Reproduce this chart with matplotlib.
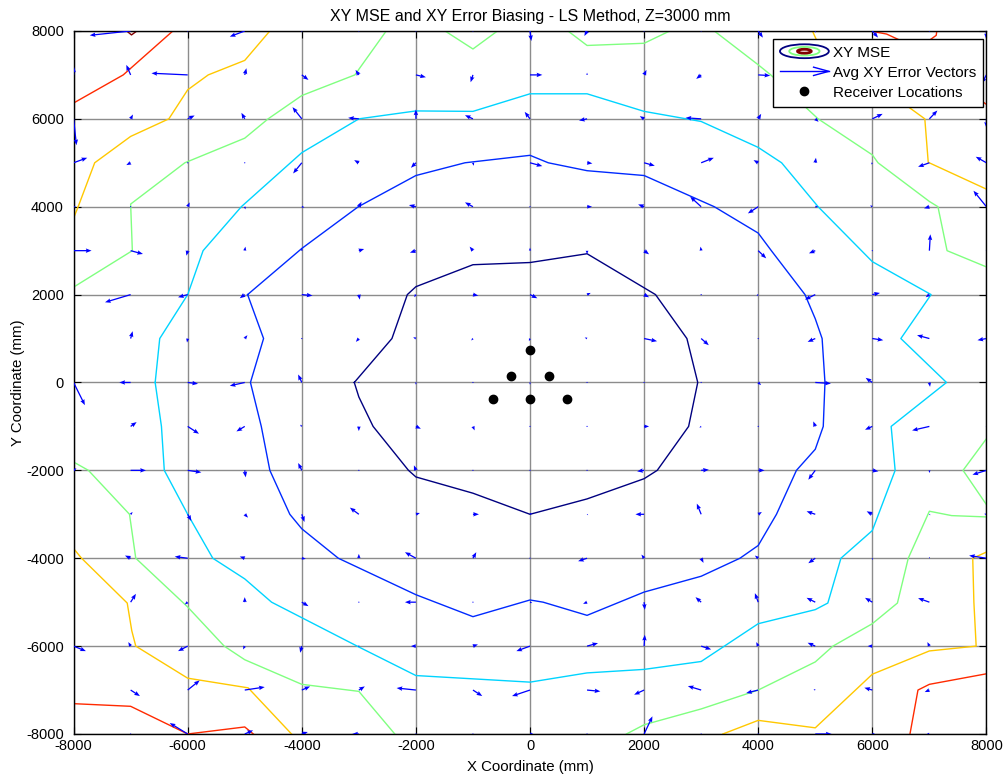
import numpy as np
import matplotlib
matplotlib.use('Agg')
import matplotlib.pyplot as plt
from matplotlib.legend_handler import HandlerBase
from matplotlib.patches import Ellipse
from matplotlib.lines import Line2D

plt.rcParams['font.family'] = ['Liberation Sans', 'DejaVu Sans']
plt.rcParams['axes.unicode_minus'] = False

# grille des points de mesure (mm)
grid_x = np.arange(-8000, 8001, 1000)
grid_y = np.arange(8000, -8001, -1000)

# erreur moyenne XY (mm), lignes de Y=8000 (haut) a Y=-8000 (bas)
err_u = np.array([
    [20, -717, 0, -262, 10, 10, 10, 10, 23, -47, 10, 10, 82, 0, 100, 10, 0],
    [5, -76, -635, 29, 117, -58, 175, -41, 216, 0, 41, -87, 210, 0, 0, 0, -82],
    [50, 41, 122, -58, -163, -187, 0, -140, -93, -140, -76, -274, 52, 58, 181, 140, 0],
    [239, -76, 10, 10, -152, -82, -87, 17, 216, 93, 187, 222, -82, 12, -20, -198, -187],
    [40, 10, 35, 12, 47, 47, -122, -140, 10, 87, -105, -192, -181, 50, -40, -93, -227],
    [315, 216, -23, 12, 0, 93, -105, -58, 0, 0, 87, -12, 140, -111, 10, 17, 10],
    [10, -449, -169, -87, 187, 17, -30, 93, 128, 64, 87, 10, -30, -181, 134, -64, 10],
    [10, 35, -12, 47, 20, -52, -47, -30, -20, -41, 227, 134, 10, -134, 192, -216, -157],
    [198, -198, 181, -262, -64, -20, 0, 10, 0, 10, 10, 10, 50, 274, -117, 12, 10],
    [10, 105, 198, -146, -30, 0, 87, 29, 10, 10, 87, -30, 10, -35, -128, -303, 10],
    [50, 268, 239, 17, -64, 10, -35, 10, 10, 10, -122, 134, 111, -122, 105, 6, -245],
    [10, 35, 64, 58, 47, -157, 70, 105, 35, 20, -152, -76, 64, -152, -99, 20, -40],
    [10, -99, -227, -87, 70, 0, -192, 58, 10, -157, -47, 41, -58, -122, 10, 10, -303],
    [10, 93, -52, 0, 117, 10, -192, 10, 40, -70, 12, -99, -58, -152, -128, -198, 10],
    [216, -41, -169, -30, -29, 10, -87, 87, -239, 192, 12, 175, -35, -134, -82, -35, 10],
    [10, 163, 210, 350, 146, 105, -338, 163, -315, 233, -175, -233, -210, -30, -140, -82, 10],
    [10, 10, -315, 146, 105, -117, 10, 10, 80, 10, 146, 10, 10, 286, 60, -60, 10],
])
err_v = np.array([
    [0, -99, -20, -129, -10, -10, -10, -10, -228, -114, -10, -10, -152, -40, -150, -10, -190],
    [190, 228, 38, 152, -114, 114, -53, -167, 0, 50, 114, -91, -15, 0, 0, 0, -190],
    [-600, 99, 76, 137, 266, 23, 213, 83, 159, -38, 61, 23, 114, -68, 114, 190, -205],
    [114, -53, -10, 10, -243, 61, -114, -68, -76, -15, -68, 114, 61, 114, -40, -91, 137],
    [0, 0, 99, -61, -15, 114, 38, 99, -10, 0, 53, 228, -152, 0, 30, -38, 364],
    [0, -76, -114, 91, 60, 38, -46, 91, 68, -80, -83, 91, -175, -61, 0, 372, 0],
    [0, -175, -61, -83, -23, -114, -60, -23, -83, 38, -61, 0, -30, -114, 38, -61, 0],
    [0, 167, -91, 76, 0, -76, 30, -45, -60, 23, -61, -152, 0, -76, -38, 76, -38],
    [-516, 0, -30, -76, 182, 0, -50, 0, -50, 0, 0, -20, -60, -23, 106, -99, 0],
    [0, 99, -167, -114, 40, -106, -53, -91, 0, 0, 0, -30, 0, 114, -76, -91, 0],
    [50, 0, -46, -159, 167, 0, 114, 0, 0, 0, -23, 15, 0, -213, -23, -61, -99],
    [0, 53, -152, -76, -175, 152, 30, 0, 30, -20, 0, 243, 53, 68, 68, -20, 10],
    [0, 61, 38, 38, -15, 99, 137, 137, 0, -68, 83, -106, 61, -114, -40, 30, 61],
    [0, 190, -53, 114, -91, 0, 0, 0, -20, -38, -175, 114, 205, 99, 99, 91, 0],
    [-114, 91, -114, -76, -152, 0, 0, 38, -114, 68, 258, -76, 91, 76, 0, 91, 0],
    [0, -137, 220, 68, 83, 83, 46, -137, -137, -30, -106, 91, -68, 20, 53, -46, 0],
    [0, 0, 250, 83, 46, 0, 0, 0, -20, 0, 402, 0, 0, 0, -10, -10, 0],
])

# positions des recepteurs (mm)
receiver_x = [0, -330, 330, -650, 0, 650]
receiver_y = [730, 145, 145, -385, -385, -385]

# iso-lignes du MSE (du niveau le plus bas au plus haut)
mse_lvl1 = [[(-3080, 0), (-2420, 1000), (-2150, 2000), (-2000, 2180), (-1000, 2680), (0, 2730),
             (1000, 2930), (2200, 2000), (2750, 1000), (2940, 0), (2780, -1000), (2230, -2000),
             (2000, -2190), (1000, -2650), (0, -3000), (-1000, -2520), (-2000, -2150),
             (-2130, -2000), (-2750, -1000), (-3000, -330), (-3080, 0)]]
mse_lvl2 = [[(-4950, 2000), (-4000, 3050), (-3010, 4000), (-2000, 4710), (-1140, 5000), (0, 5170),
             (320, 5000), (1000, 4820), (2000, 4710), (3230, 4000), (4000, 3400), (4230, 3000),
             (4820, 2000), (5000, 1450), (5120, 1000), (5170, 0), (5140, -1000), (5000, -1520),
             (4670, -2000), (4320, -3000), (4000, -3710), (3680, -4000), (3000, -4410),
             (2000, -4770), (1000, -5300), (230, -5000), (0, -4950), (-1000, -5330),
             (-2000, -4830), (-3360, -4000), (-4000, -3330), (-4210, -3000), (-4560, -2000),
             (-4710, -1000), (-4900, 0), (-4670, 1000), (-4950, 2000)]]
mse_lvl3 = [[(-6570, 0), (-6490, 1000), (-6000, 2000), (-5730, 3000), (-5060, 4000), (-4000, 5230),
             (-3000, 6000), (-2000, 6180), (-1000, 6170), (0, 6570), (1000, 6570), (2000, 6170),
             (3000, 5940), (4000, 5350), (4410, 5000), (5050, 4000), (6000, 2750), (7030, 2000),
             (6500, 1000), (7300, 0), (6330, -1000), (6400, -2000), (6000, -3370), (5450, -4000),
             (5220, -5020), (5000, -5170), (4000, -5490), (3000, -6350), (2000, -6530),
             (1000, -6610), (0, -6820), (-2000, -6670), (-3000, -6020), (-4530, -5000),
             (-5000, -4470), (-5560, -4000), (-6000, -3000), (-6410, -2000), (-6460, -1000),
             (-6570, 0)]]
mse_lvl4 = [[(-8000, 2170), (-6970, 3000), (-7000, 4060), (-6050, 5000), (-5000, 5560), (-4590, 6000),
             (-4000, 6530), (-3070, 7000), (-2520, 8000)],
            [(-1490, 8000), (-1000, 7590), (-570, 8000)],
            [(665, 8000), (1000, 7670), (2000, 7720), (2450, 8000)],
            [(3230, 8000), (4000, 7230), (4220, 7000), (5050, 6000), (6000, 5180), (6100, 5000),
             (7000, 4120), (7150, 4000), (7310, 3000), (8000, 2630)],
            [(8000, -1280), (7590, -2000), (8000, -2780)],
            [(8000, -3060), (7390, -3030), (7000, -2930), (6630, -4000), (6440, -5020), (6000, -5490),
             (5310, -6000), (5000, -6360), (4000, -7000), (3000, -7430), (2000, -7790), (1690, -8000)],
            [(-8000, -1810), (-7740, -2000), (-7020, -3000), (-6910, -4000), (-6000, -5110),
             (-5360, -6000), (-5000, -6310), (-4000, -6870), (-3000, -7030), (-2370, -8000)]]
mse_lvl5 = [[(-4560, 8000), (-5000, 7330), (-5640, 7000), (-6000, 6660), (-6330, 6000), (-7000, 5600),
             (-7630, 5000), (-7920, 4000), (-8000, 3740)],
            [(4950, 8000), (5300, 7000), (6570, 6330), (6920, 6000), (6980, 5010), (8000, 4400)],
            [(-8000, -3780), (-7860, -4000), (-7060, -5020), (-6980, -5650), (-6910, -6000),
             (-6000, -6730), (-4940, -6950), (-4180, -8000)],
            [(3380, -8000), (4000, -7690), (5000, -7860), (6000, -6640), (7000, -6110), (7820, -6000),
             (7780, -5000), (7760, -4000), (8000, -3860)]]
mse_lvl6 = [[(-8000, 6360), (-7130, 7000), (-6260, 8000)],
            [(5960, 8000), (6250, 7930), (6800, 7600), (7120, 7900), (7130, 8000)],
            [(7700, 7000), (7900, 6420), (8000, 6330)],
            [(-8000, -7310), (-7000, -7370), (-6000, -8000), (-5000, -7840), (-4850, -8000)],
            [(6660, -8000), (6800, -7000), (7000, -6870), (8000, -6630)]]
mse_lvl7 = [[(-7070, 8000), (-6985, 7910), (-6890, 8000)]]

mse_levels = [mse_lvl1, mse_lvl2, mse_lvl3, mse_lvl4, mse_lvl5, mse_lvl6, mse_lvl7]
level_colors = ['#000080', '#002aff', '#00d4ff', '#80ff80', '#ffc800', '#ff2a00', '#800000']
arrow_color = '#0000ff'


class ContourIcon:
    pass


class ArrowIcon:
    pass


class ContourHandler(HandlerBase):
    def create_artists(self, legend, orig_handle, xdescent, ydescent, width, height, fontsize, trans):
        cx = 0.5 * width - xdescent
        cy = 0.5 * height - ydescent
        arts = []
        for frac, col, lw in [(1.0, level_colors[0], 1.3), (0.62, level_colors[3], 1.3),
                              (0.28, level_colors[6], 2.0)]:
            e = Ellipse((cx, cy), width * frac, height * 1.3 * frac, fill=False,
                        edgecolor=col, lw=lw, transform=trans)
            arts.append(e)
        return arts


class ArrowHandler(HandlerBase):
    def create_artists(self, legend, orig_handle, xdescent, ydescent, width, height, fontsize, trans):
        y0 = 0.5 * height - ydescent
        x0 = -xdescent
        x1 = width - xdescent
        shaft = Line2D([x0, x1], [y0, y0], color=arrow_color, lw=1.0, transform=trans)
        head = Line2D([x1 - 11, x1, x1 - 11], [y0 + 3, y0, y0 - 3], color=arrow_color, lw=1.0,
                      transform=trans)
        return [shaft, head]


fig = plt.figure(figsize=(10.08, 7.82), dpi=100)
ax = fig.add_axes([0.073, 0.0614, 0.9056, 0.899])

for pieces, col in zip(mse_levels, level_colors):
    for piece in pieces:
        xs = [p[0] for p in piece]
        ys = [p[1] for p in piece]
        ax.plot(xs, ys, color=col, lw=1.0, zorder=2)

gx, gy = np.meshgrid(grid_x, grid_y)
ax.quiver(gx, gy, err_u, err_v, angles='xy', scale_units='xy', scale=1, color=arrow_color,
          width=0.0014, headwidth=3.5, headlength=4.5, headaxislength=4, zorder=3)

ax.plot(receiver_x, receiver_y, 'o', color='black', ms=6, zorder=4)

ax.set_xlim(-8000, 8000)
ax.set_ylim(-8000, 8000)
ax.set_xticks(np.arange(-8000, 8001, 2000))
ax.set_yticks(np.arange(-8000, 8001, 2000))
ax.grid(True, color='#8c8c8c', lw=1.0)
ax.set_axisbelow(True)
ax.tick_params(direction='in', top=True, right=True, length=5, labelsize=10.5)
ax.tick_params(axis='y', pad=7)
for sp in ax.spines.values():
    sp.set_linewidth(1.0)

ax.set_title('XY MSE and XY Error Biasing - LS Method, Z=3000 mm', fontsize=11.5, pad=7)
ax.set_xlabel('X Coordinate (mm)', fontsize=10.8, labelpad=5)
ax.set_ylabel('Y Coordinate (mm)', fontsize=10.8, labelpad=1)

dot_handle = Line2D([], [], marker='o', ls='none', color='black', ms=6)
leg = ax.legend([ContourIcon(), ArrowIcon(), dot_handle],
                ['XY MSE', 'Avg XY Error Vectors', 'Receiver Locations'],
                handler_map={ContourIcon: ContourHandler(), ArrowIcon: ArrowHandler()},
                loc='upper right', bbox_to_anchor=(0.996, 0.989), borderaxespad=0,
                fontsize=11, handlelength=3.2, handletextpad=0.25, labelspacing=0.4,
                borderpad=0.45, fancybox=False, framealpha=1, edgecolor='black')
leg.get_frame().set_linewidth(1.0)
leg.set_zorder(10)

fig.savefig('out.png', dpi=100)
plt.close(fig)
